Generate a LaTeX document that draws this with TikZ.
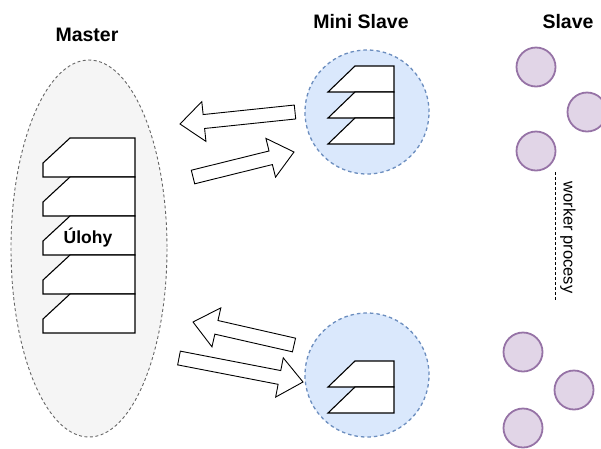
\documentclass[tikz,border=0pt]{standalone}
\usepackage{fontspec}
\setmainfont{Liberation Sans}
\usetikzlibrary{calc}

\definecolor{masterfill}{HTML}{F5F5F5}
\definecolor{masterline}{HTML}{666666}
\definecolor{minifill}{HTML}{DAE8FC}
\definecolor{miniline}{HTML}{6C8EBF}
\definecolor{slavefill}{HTML}{E1D5E7}
\definecolor{slaveline}{HTML}{9673A6}

% block arrow from tail #1 to tip #2
\newcommand\blockarrow[2]{%
  \coordinate (hb) at ($(#2)!24pt!(#1)$);
  \draw[flexarrow]
    ($(#1)!7pt!90:(#2)$) -- ($(hb)!7pt!-90:(#1)$) -- ($(hb)!20pt!-90:(#1)$)
    -- (#2) -- ($(hb)!20pt!90:(#1)$) -- ($(hb)!7pt!90:(#1)$)
    -- ($(#1)!7pt!-90:(#2)$) -- cycle;}

\tikzset{
  title/.style={font=\bfseries\fontsize{19.5}{22}\selectfont, inner sep=0pt},
  cardline/.style={draw=black, line width=1.1pt, fill=white, line join=miter},
  bigcard/.style={minimum width=92pt, minimum height=39pt, inner sep=0pt, outer sep=0pt,
    append after command={\pgfextra{\draw[cardline]
      ($(\tikzlastnode.north west)+(27pt,0pt)$) -- ($(\tikzlastnode.north west)+(0pt,-25pt)$)
      -- (\tikzlastnode.south west) -- (\tikzlastnode.south east)
      -- (\tikzlastnode.north east) -- cycle;}}},
  smallcard/.style={minimum width=66pt, minimum height=26pt, inner sep=0pt, outer sep=0pt,
    append after command={\pgfextra{\draw[cardline]
      ($(\tikzlastnode.north west)+(27pt,0pt)$) -- (\tikzlastnode.south west)
      -- (\tikzlastnode.south east) -- (\tikzlastnode.north east) -- cycle;}}},
  masterbox/.style={draw=masterline, fill=masterfill, line width=0.9pt,
    dash pattern=on 3pt off 2.5pt},
  minibox/.style={circle, draw=miniline, fill=minifill, line width=1.3pt,
    dash pattern=on 3.5pt off 3pt, minimum size=124pt, inner sep=0pt},
  worker/.style={circle, draw=slaveline, fill=slavefill, line width=1.8pt,
    minimum size=39pt, inner sep=0pt},
  flexarrow/.style={draw=black, fill=white, line width=0.9pt, line join=miter},
}

\begin{document}
\begin{tikzpicture}[x=1pt, y=-1pt]
\useasboundingbox (0,0) rectangle (601,448);

% headings
\node[title] (tmaster) at (87,35) {Master};
\node[title] (tmini) at (361,22) {Mini Slave};
\node[title] (tslave) at (568,22) {Slave};

% master with its task stack
\draw[masterbox] (89,248.5) ellipse [x radius=78, y radius=188.5];
\coordinate (master) at (89,248.5);
\node[bigcard] (m1) at (89,157.5) {};
\node[bigcard] (m2) at (89,196.5) {};
\node[bigcard] (m3) at (89,235.5) {};
\node[bigcard] (m4) at (89,274.5) {};
\node[bigcard] (m5) at (89,313.5) {};
\node[font=\bfseries\fontsize{17.5}{20}\selectfont, inner sep=0pt] (ulohy) at ($(m3.center)+(-1pt,-2pt)$) {Úlohy};

% mini slaves
\node[minibox] (ms1) at (367,112) {};
\node[smallcard] (c1) at (361,79) {};
\node[smallcard] (c2) at (361,105) {};
\node[smallcard] (c3) at (361,131) {};

\node[minibox] (ms2) at (367,375) {};
\node[smallcard] (c4) at (361,374) {};
\node[smallcard] (c5) at (361,400) {};

% block arrows between master and mini slaves
\coordinate (a1t) at (295,112); \coordinate (a1h) at (180,124);
\coordinate (a2t) at (193,177); \coordinate (a2h) at (294,152);
\coordinate (a3t) at (294,345); \coordinate (a3h) at (193,322);
\coordinate (a4t) at (179,358); \coordinate (a4h) at (303,382);
\blockarrow{a1t}{a1h}
\blockarrow{a2t}{a2h}
\blockarrow{a3t}{a3h}
\blockarrow{a4t}{a4h}

% worker processes
\node[worker] (s1) at (536,67) {};
\node[worker] (s2) at (587,112) {};
\node[worker] (s3) at (536,151) {};
\node[worker] (s4) at (523,352) {};
\node[worker] (s5) at (574,390) {};
\node[worker] (s6) at (523,428) {};

\coordinate (w1) at (555,172);
\coordinate (w2) at (555,300);
\draw[black, line width=0.9pt, dash pattern=on 3pt off 2pt] (w1) -- (w2);
\node[rotate=-90, font=\fontsize{16.5}{19}\selectfont, inner sep=0pt] (wlabel) at (568,237.5) {worker procesy};
\end{tikzpicture}
\end{document}
